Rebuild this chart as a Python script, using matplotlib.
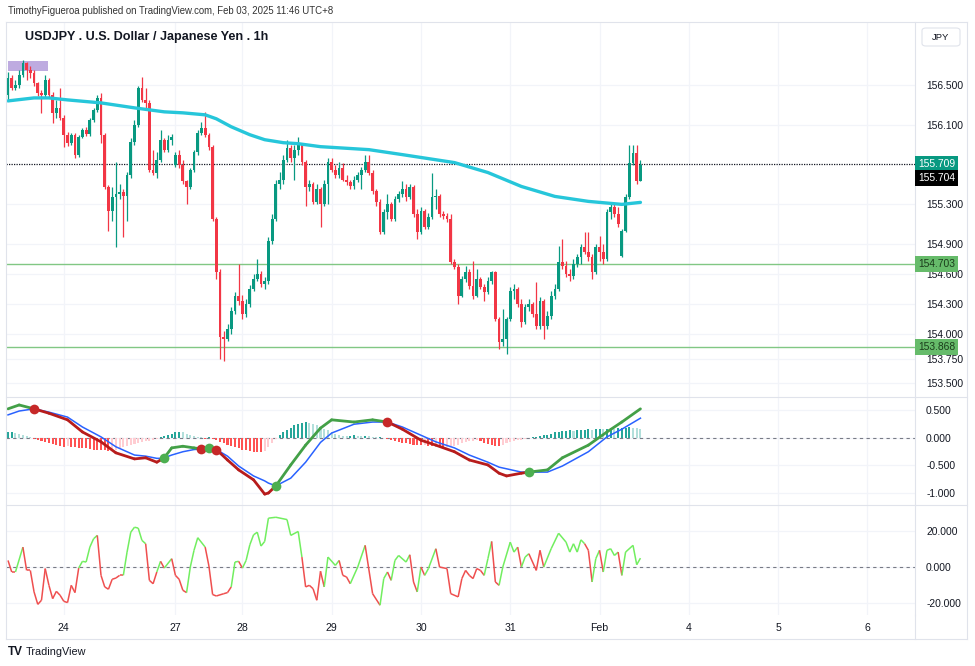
import numpy as np
import matplotlib.pyplot as plt
from matplotlib.lines import Line2D
from matplotlib.patches import Rectangle, FancyBboxPatch
from matplotlib.collections import LineCollection
import matplotlib.transforms as mtransforms

plt.rcParams['font.family'] = ['Liberation Sans', 'DejaVu Sans']

# ---- price candles (USDJPY 1h), bar index 0 = Jan 23 09:00 ----
first_open = 156.40
gap_opens = {45: 155.70, 165: 154.78}   # weekend gaps (Monday opens)

closes = [156.57,156.47,156.50,156.60,156.72,156.65,156.62,156.52,156.42,156.40,
          156.55,156.40,156.22,156.27,156.17,156.00,155.92,156.00,155.80,155.98,
          156.05,156.01,156.15,156.25,156.37,156.00,155.47,155.23,155.37,155.40,
          155.42,155.38,155.60,155.93,156.10,156.47,156.35,156.32,155.65,155.62,
          155.75,155.95,155.85,155.95,155.98,155.80,155.70,155.53,155.47,155.65,
          155.83,156.02,156.07,156.00,155.88,155.15,154.62,153.97,153.95,154.05,
          154.23,154.38,154.33,154.20,154.30,154.45,154.55,154.60,154.50,154.53,
          154.93,155.15,155.50,155.55,155.75,155.87,155.77,155.85,155.90,155.73,
          155.47,155.50,155.32,155.45,155.30,155.50,155.73,155.65,155.60,155.67,
          155.55,155.52,155.48,155.55,155.60,155.65,155.73,155.62,155.43,155.32,
          155.02,155.22,155.30,155.15,155.35,155.40,155.45,155.37,155.47,155.20,
          155.02,155.23,155.07,155.17,155.37,155.38,155.20,155.18,155.15,154.72,
          154.67,154.38,154.55,154.62,154.48,154.38,154.55,154.47,154.42,154.53,
          154.62,154.15,153.92,153.95,154.15,154.43,154.45,154.30,154.12,154.27,
          154.30,154.20,154.08,154.33,154.08,154.18,154.38,154.45,154.72,154.68,
          154.60,154.58,154.70,154.77,154.87,154.82,154.77,154.62,154.87,154.82,
          154.75,155.22,155.27,155.20,155.10,155.03,155.37,155.72,155.82,155.53,
          155.70]

highs = [156.63,156.60,156.55,156.65,156.75,156.73,156.69,156.65,156.53,156.45,
         156.60,156.57,156.43,156.35,156.47,156.20,156.03,156.02,156.02,156.00,
         156.07,156.08,156.17,156.27,156.40,156.42,156.02,155.49,155.47,155.73,
         155.50,155.45,155.63,155.97,156.15,156.49,156.58,156.47,156.35,155.85,
         155.83,156.05,155.97,156.00,156.01,155.83,155.85,155.75,155.55,155.67,
         155.85,156.05,156.13,156.23,156.02,155.90,155.17,154.65,154.03,154.10,
         154.27,154.42,154.70,154.39,154.35,154.49,154.60,154.75,154.63,154.57,
         154.97,155.20,155.55,155.63,155.80,155.95,155.90,155.90,155.98,155.92,
         155.75,155.55,155.52,155.50,155.47,155.55,155.77,155.77,155.70,155.73,
         155.72,155.60,155.55,155.59,155.63,155.68,155.80,155.80,155.65,155.45,
         155.35,155.25,155.40,155.32,155.38,155.43,155.53,155.50,155.50,155.49,
         155.25,155.27,155.25,155.21,155.62,155.45,155.40,155.23,155.21,155.20,
         154.75,154.70,154.58,154.68,154.65,154.73,154.65,154.57,154.50,154.57,
         154.63,154.63,154.17,154.25,154.17,154.47,154.50,154.47,154.35,154.30,
         154.35,154.32,154.52,154.37,154.35,154.23,154.43,154.50,154.88,154.95,
         154.73,154.65,154.75,154.80,154.90,155.02,155.02,154.80,154.90,154.98,
         154.90,155.25,155.30,155.30,155.27,155.05,155.40,155.90,155.90,155.90,
         155.75]

lows = [156.35,156.45,156.45,156.47,156.58,156.55,156.57,156.49,156.39,156.22,
        156.38,156.37,156.12,156.17,156.15,155.88,155.89,155.90,155.77,155.78,
        155.97,155.99,155.99,156.13,156.23,155.92,155.45,155.03,155.13,154.87,
        155.35,154.97,155.13,155.57,155.90,156.08,156.33,156.25,155.63,155.60,
        155.57,155.73,155.83,155.83,155.90,155.68,155.67,155.50,155.30,155.45,
        155.63,155.80,156.00,155.98,155.85,155.13,154.55,153.75,153.73,153.93,
        154.00,154.20,154.29,154.15,154.17,154.27,154.43,154.53,154.47,154.45,
        154.50,154.90,155.13,155.45,155.50,155.73,155.73,155.55,155.80,155.70,
        155.28,155.43,155.30,155.30,155.07,155.28,155.30,155.63,155.57,155.57,
        155.53,155.49,155.45,155.45,155.52,155.45,155.63,155.60,155.40,155.28,
        155.00,155.00,155.15,155.13,155.13,155.32,155.37,155.33,155.35,155.17,
        154.95,155.00,155.05,155.05,155.15,155.25,155.17,155.15,155.12,154.70,
        154.65,154.30,154.37,154.52,154.45,154.35,154.37,154.45,154.33,154.40,
        154.50,154.13,153.85,153.88,153.80,154.13,154.35,154.27,154.07,154.10,
        154.23,154.17,154.05,154.05,153.95,154.05,154.15,154.35,154.43,154.65,
        154.57,154.53,154.55,154.67,154.70,154.80,154.73,154.55,154.60,154.73,
        154.70,154.73,155.15,155.17,155.07,154.77,155.02,155.35,155.70,155.50,
        155.53]

# moving average (cyan), read at a few bars
ma_idx = [0, 7, 11, 16, 25, 34, 38, 42, 47, 53, 56, 60, 65, 69, 74, 78, 84, 97,
          106, 120, 129, 138, 147, 156, 165, 170]
ma_val = [156.34, 156.37, 156.37, 156.35, 156.32, 156.27, 156.25, 156.23, 156.22,
          156.20, 156.16, 156.08, 156.00, 155.95, 155.92, 155.91, 155.88, 155.85,
          155.80, 155.72, 155.62, 155.48, 155.38, 155.33, 155.30, 155.32]

session_box = [0, 10.8, 156.64, 156.74]   # purple box x0, x1, y0, y1
levels = [154.703, 153.868]
last_price = 155.709
close_price = 155.704

# ---- MACD panel ----
macd_idx = [0, 3, 7, 11, 16, 20, 25, 29, 34, 37, 40, 41, 42, 44, 47, 50, 52, 54, 56, 59,
            62, 66, 69, 70, 72, 76, 80, 84, 87, 93, 98, 102, 106, 111, 115, 120, 124, 129,
            132, 134, 138, 140, 145, 149, 156, 161, 165, 170]
macd_val = [0.53, 0.60, 0.53, 0.45, 0.33, 0.11, -0.07, -0.27, -0.38, -0.36,
            -0.44, -0.40, -0.36, -0.18, -0.15, -0.18, -0.20, -0.18, -0.21, -0.40,
            -0.58, -0.76, -1.02, -1.00, -0.87, -0.49, -0.13, 0.18, 0.33, 0.29,
            0.33, 0.29, 0.16, -0.04, -0.13, -0.25, -0.40, -0.49, -0.64, -0.69,
            -0.64, -0.62, -0.58, -0.36, -0.13, 0.11, 0.29, 0.53]
signal_val = [0.42, 0.49, 0.53, 0.47, 0.38, 0.20, 0.02, -0.16, -0.31, -0.33,
              -0.37, -0.37, -0.36, -0.31, -0.25, -0.21, -0.20, -0.18, -0.21, -0.33,
              -0.51, -0.69, -0.78, -0.82, -0.87, -0.73, -0.44, -0.08, 0.09, 0.25,
              0.29, 0.29, 0.20, 0.05, -0.07, -0.18, -0.31, -0.44, -0.53, -0.56,
              -0.62, -0.62, -0.62, -0.51, -0.25, 0.02, 0.16, 0.36]
cross_idx = [7, 42, 52, 54, 56, 72, 102, 140]

hist_val = [0.10, 0.11, 0.09,
            0.07, 0.05, 0.03, 0.01,
            -0.02, -0.04, -0.06, -0.08, -0.10, -0.11, -0.13, -0.14, -0.16,
            -0.15, -0.16, -0.17, -0.18, -0.18, -0.19,
            -0.20, -0.21, -0.21, -0.22, -0.22, -0.23, -0.22, -0.21,
            -0.19, -0.17, -0.15, -0.13, -0.11, -0.09, -0.08, -0.06, -0.05, -0.04, -0.02,
            0.01, 0.03, 0.05, 0.08, 0.10, 0.11, 0.10, 0.08, 0.06, 0.04,
            0.02, 0.01, -0.01, 0.01, -0.01,
            -0.04, -0.07, -0.10, -0.13, -0.15, -0.17, -0.19, -0.21, -0.22, -0.24, -0.25, -0.26, -0.26, -0.24,
            -0.17, -0.09, -0.02,
            0.05, 0.10, 0.15, 0.19, 0.23, 0.26, 0.28, 0.29, 0.28, 0.26, 0.23, 0.20, 0.17, 0.14,
            0.10, 0.07, 0.05, 0.04, 0.03, 0.04, 0.05, 0.04, 0.03, 0.04, 0.03, 0.02, 0.01, 0.01, 0.0,
            -0.02, -0.04, -0.06, -0.08, -0.09, -0.10, -0.11, -0.12, -0.13, -0.13,
            -0.12, -0.14, -0.15, -0.14, -0.16, -0.17, -0.16, -0.15, -0.14, -0.12, -0.10,
            -0.08, -0.06, -0.05, -0.04, -0.06,
            -0.09, -0.11, -0.13, -0.14, -0.15, -0.13, -0.10,
            -0.08, -0.06, -0.04, -0.03, -0.01, 0.0,
            0.01, 0.02, 0.03, 0.05, 0.06, 0.08, 0.10,
            0.11, 0.12, 0.13, 0.14, 0.13, 0.14, 0.15, 0.15, 0.16, 0.15, 0.16, 0.17, 0.16, 0.17,
            0.18, 0.17, 0.18, 0.19, 0.19, 0.20,
            0.19, 0.18, 0.17]

# ---- oscillator panel ----
osc_idx = [0, 1, 2, 4, 5, 6, 7, 8, 9, 10,
           11, 12, 13, 14, 15, 16, 17, 18, 19, 20,
           21, 22, 23, 24, 25, 26, 27, 28, 29, 30,
           31, 32, 33, 34, 35, 36, 37, 38, 39, 40,
           41, 42, 44, 45, 46, 47, 48, 49, 50, 51,
           53, 54, 55, 56, 58, 59, 60, 61, 62, 63,
           64, 65, 66, 67, 68, 69, 70, 72, 75, 76,
           78, 79, 80, 81, 82, 83, 84, 85, 86, 88,
           89, 90, 91, 92, 94, 96, 98, 100, 101, 102,
           103, 104, 105, 107, 108, 109, 110, 111, 112, 113,
           115, 116, 118, 119, 121, 122, 123, 124, 125, 126,
           127, 128, 129, 130, 131, 132, 133, 135, 136, 137,
           138, 139, 140, 142, 143, 144, 146, 148, 150, 151,
           152, 153, 154, 155, 156, 157, 158, 159, 160, 161,
           162, 163, 164, 165, 166, 168, 169, 170]
osc_val = [3.7, -2.8, -2.8, 11.2, -1.9, -1.9, -14, -21, -18.7, -0.9,
           -10.3, -17.8, -13.7, -15.9, -19.3, -20, -10.3, -14.4, -0.6, 3.2,
           2.8, 11.2, 15.9, 17.8, -4.7, -11.2, -12.5, -6.9, -6.2, -4.7,
           -4.7, 8.4, 19.6, 22.4, 21.9, 15, 13.1, -7.5, -9.4, -2.8,
           3.2, -0.6, 4.7, -4.7, -6.9, -13.1, -14.4, 0, 9.4, 16.5,
           11.2, 0.6, -15.5, -16.3, -15, -14.4, -11.2, 2.8, 3.2, -0.6,
           3.7, 12.5, 18.1, 19.6, 11.8, 14.4, 27.5, 28, 26.7, 17.8,
           20, 5.6, -11.2, -10.3, -12.2, -18.7, -2.4, -11.2, 5.6, 0.9,
           3.7, -4.7, -5.6, -9.4, 0, 12.2, -15, -21.5, -6.5, -2.8,
           -7.5, 3.7, 6.5, 2.8, 6.9, -8.4, -14, 0, -4.7, -0.9,
           10.3, 0, -0.9, -15, -16.8, -6.5, -1.9, -4.7, -6.5, -0.9,
           -1.9, -4.7, 4.7, 14.4, -8.4, -10.3, 0, 14, 8.4, 11.2,
           0, 5.6, 7.5, -1.9, 9.4, 0, 10.3, 19, 14, 8.4,
           13.1, 8.4, 15.3, 13.1, 9.4, -8.4, 4.7, 9.4, -2.8, 9.4,
           10.3, 6.5, 8.4, -4.7, 8.4, 12.2, 1.3, 5]
osc_col = ("rrgrrrrrrr" "rrrrrrrrgg" "gggrrrrrrr" "ggggggrrrg" "rgrrrrgggg"
           "rrrrrrggrg" "gggggggggg" "grrrrrrggg" "rrrggrrggr" "ggggrrgrgg"
           "rrrrrrrrrr" "rggrrggggr" "ggrrrggggg" "gggrrggrgg" "ggrggggg")

price_ticks = [156.5, 156.1, 155.3, 154.9, 154.6, 154.3, 154.0, 153.75, 153.5]
macd_ticks = [0.5, 0.0, -0.5, -1.0]
osc_ticks = [20, 0, -20]
date_pos = [15, 45, 63, 87, 111, 135, 159, 183, 207, 231]
date_lbl = ['24', '27', '28', '29', '30', '31', 'Feb', '4', '5', '6']

UP = '#089981'
DOWN = '#f23645'
GRID = '#f2f4f9'
BORDER = '#e0e3eb'
TXT = '#131722'

W, H = 975, 666
fig = plt.figure(figsize=(W / 100, H / 100), dpi=100)


def px_axes(x0, y0, x1, y1):
    return fig.add_axes([x0 / W, 1 - y1 / H, (x1 - x0) / W, (y1 - y0) / H])


def fig_line(x0, y0, x1, y1, **kw):
    fig.add_artist(Line2D([x0 / W, x1 / W], [1 - y0 / H, 1 - y1 / H],
                          transform=fig.transFigure, **kw))


ax = px_axes(6, 22, 915, 397)
ax2 = px_axes(6, 397, 915, 505)
ax3 = px_axes(6, 505, 915, 615)
xlim = (-0.54, 243.8)

for a in (ax, ax2, ax3):
    a.set_xlim(*xlim)
    for s in a.spines.values():
        s.set_visible(False)
    a.spines['right'].set_visible(True)
    a.spines['right'].set_color(BORDER)
    a.yaxis.tick_right()
    a.tick_params(axis='y', length=0, pad=8, labelsize=7.4, labelcolor=TXT)
    a.tick_params(axis='x', length=0)
    a.set_xticks(date_pos)
    a.set_xticklabels([])
    a.grid(True, color=GRID, lw=0.9, zorder=0)
    a.set_axisbelow(True)


def fmt(t):
    return '%.3f' % t


# ---- main price panel ----
ax.set_ylim(153.364, 157.133)
ax.set_yticks(price_ticks)
ax.set_yticklabels([fmt(t) for t in price_ticks])

idx = np.arange(len(closes))
c = np.array(closes)
o = np.concatenate([[first_open], c[:-1]])
for k, v in gap_opens.items():
    o[k] = v
h = np.maximum(np.array(highs), np.maximum(o, c))
l = np.minimum(np.array(lows), np.minimum(o, c))
cols = np.where(c >= o, UP, DOWN)

ax.add_patch(Rectangle((session_box[0], session_box[2]), session_box[1] - session_box[0],
                       session_box[3] - session_box[2], color='#b39ddb', alpha=0.85,
                       lw=0, zorder=1))
ax.vlines(idx, l, h, colors=cols, lw=0.9, zorder=3)
body = np.maximum(np.abs(c - o), 0.012)
ax.bar(idx, body, bottom=np.minimum(o, c), width=0.74, color=cols, lw=0, zorder=4)

ax.plot(ma_idx, ma_val, color='#26c6da', lw=2.4, solid_capstyle='round',
        solid_joinstyle='round', zorder=5)

for lv in levels:
    ax.axhline(lv, color='#81c784', lw=1.0, zorder=2)
ax.axhline(last_price, color=TXT, lw=0.9, ls=(0, (1, 1)), zorder=2)

ytr = ax.get_yaxis_transform()


def price_tag(y, txt, fc, tc, dy=0):
    tr = mtransforms.offset_copy(ytr, fig=fig, x=0, y=dy, units='dots')
    ax.text(1.0035, y, txt, transform=tr, ha='left', va='center', fontsize=7.4,
            color=tc, zorder=10, clip_on=False,
            bbox=dict(boxstyle='square,pad=0.3', fc=fc, ec='none'))


price_tag(last_price, fmt(last_price), UP, 'white')
price_tag(last_price, fmt(close_price), '#000000', 'white', dy=-14)
for lv in levels:
    price_tag(lv, fmt(lv), '#66bb6a', '#1b3d1b')

# ---- MACD panel ----
ax2.set_ylim(-1.218, 0.745)
ax2.set_yticks(macd_ticks)
ax2.set_yticklabels([fmt(t) for t in macd_ticks])
ax2.axhline(0, color='#787b86', lw=0.8, ls=(0, (3, 3)), zorder=1)

hv = np.array(hist_val)
prev = np.concatenate([[hv[0]], hv[:-1]])
hcol = []
for v, p in zip(hv, prev):
    if v >= 0:
        hcol.append('#26a69a' if v >= p else '#b2dfdb')
    else:
        hcol.append('#ff5252' if v <= p else '#ffcdd2')
ax2.bar(np.arange(len(hv)), hv, width=0.55, color=hcol, lw=0, zorder=2)

ax2.plot(macd_idx, signal_val, color='#2962ff', lw=1.1, zorder=3)
segs, scol = [], []
for k in range(len(macd_idx) - 1):
    n = sum(1 for ci in cross_idx if ci <= macd_idx[k])
    segs.append([(macd_idx[k], macd_val[k]), (macd_idx[k + 1], macd_val[k + 1])])
    scol.append('#43a047' if n % 2 == 0 else '#b71c1c')
ax2.add_collection(LineCollection(segs, colors=scol, lw=2.0, capstyle='round',
                                  joinstyle='round', zorder=4))
for n, ci in enumerate(cross_idx):
    v = macd_val[macd_idx.index(ci)]
    ax2.plot(ci, v, 'o', ms=7, color='#c62828' if n % 2 == 0 else '#4caf50',
             mec='none', zorder=5)

# ---- oscillator panel ----
ax3.set_ylim(-27.0, 34.9)
ax3.set_yticks(osc_ticks)
ax3.set_yticklabels([fmt(t) for t in osc_ticks])
ax3.axhline(0, color='#787b86', lw=0.8, ls=(0, (3, 3)), zorder=1)
osegs, ocol = [], []
for k in range(len(osc_idx) - 1):
    osegs.append([(osc_idx[k], osc_val[k]), (osc_idx[k + 1], osc_val[k + 1])])
    ocol.append('#72ee60' if osc_col[k] == 'g' else '#ef4f4f')
ax3.add_collection(LineCollection(osegs, colors=ocol, lw=1.1, zorder=3))
ax3.set_xticklabels(date_lbl)
ax3.tick_params(axis='x', labelsize=7.6, labelcolor=TXT, pad=6)

# ---- frame, separators, header ----
fig_line(6, 21.5, 967, 21.5, color=BORDER, lw=0.8)
fig_line(6, 639, 967, 639, color=BORDER, lw=0.8)
fig_line(6, 21.5, 6, 639, color=BORDER, lw=0.8)
fig_line(967, 21.5, 967, 639, color=BORDER, lw=0.8)
fig_line(6, 397, 967, 397, color=BORDER, lw=0.8)
fig_line(6, 505, 967, 505, color=BORDER, lw=0.8)
fig_line(915, 615, 915, 639, color=BORDER, lw=0.8)

fig.text(8 / W, 1 - 11 / H, 'TimothyFigueroa published on TradingView.com, Feb 03, 2025 11:46 UTC+8',
         fontsize=6.9, color='#333333', va='center')
fig.text(25 / W, 1 - 37 / H, 'USDJPY . U.S. Dollar / Japanese Yen . 1h',
         fontsize=9.1, fontweight='bold', color=TXT, va='center')
fig.add_artist(FancyBboxPatch((922 / W, 1 - 46 / H), 38 / W, 18 / H,
                              boxstyle='round,pad=0,rounding_size=0.004',
                              transform=fig.transFigure, fc='white', ec=BORDER, lw=0.8))
fig.text(941 / W, 1 - 37 / H, 'JPY', fontsize=6.8, color=TXT, ha='center', va='center')
fig.text(8 / W, 1 - 652 / H, 'TV', fontsize=8.5, fontweight='heavy', color=TXT, va='center')
fig.text(26 / W, 1 - 652 / H, 'TradingView', fontsize=7.8, color=TXT, va='center')

fig.savefig('out.png', dpi=100, facecolor='white')
